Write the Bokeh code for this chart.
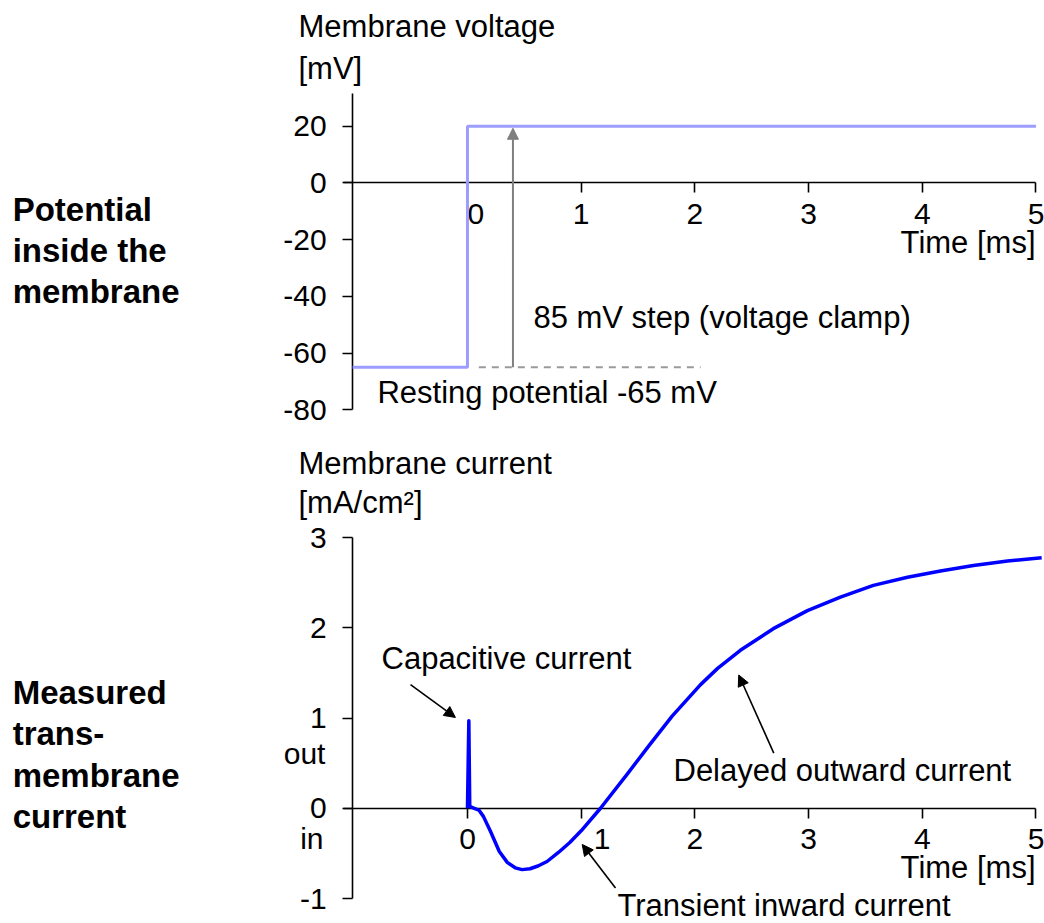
from bokeh.plotting import figure
from bokeh.models import Range1d, FixedTicker, Label, Arrow, NormalHead
from bokeh.layouts import column
from bokeh.embed import file_html
from bokeh.resources import INLINE

FONT = "Liberation Sans"

# ---------------- data ----------------
time_ticks = [0, 1, 2, 3, 4, 5]
voltage_ticks = [20, 0, -20, -40, -60, -80]
current_ticks = [3, 2, 1, 0, -1]

step_time = [-1.01, 0.0, 0.0, 5.0]
step_voltage = [-65, -65, 20, 20]

resting_time = [0.1, 2.05]
resting_voltage = [-65, -65]

current_time = [0.0, 0.012, 0.02, 0.06, 0.1, 0.14, 0.2, 0.28, 0.35, 0.42, 0.48,
                0.55, 0.62, 0.7, 0.8, 0.9, 1.0, 1.17, 1.4, 1.6, 1.8, 2.05, 2.2,
                2.4, 2.69, 2.99, 3.28, 3.57, 3.87, 4.16, 4.45, 4.75, 5.05]
current_value = [0.0, 0.97, 0.02, 0.0, -0.02, -0.09, -0.25, -0.48, -0.60, -0.66, -0.68,
                 -0.67, -0.64, -0.59, -0.49, -0.38, -0.25, 0.0, 0.37, 0.70, 1.02, 1.37, 1.55,
                 1.75, 1.99, 2.19, 2.34, 2.47, 2.56, 2.63, 2.69, 2.74, 2.775]

# the plot frame covers the whole canvas; axes sit at fixed data locations inside it
X_RANGE = (-4.107, 5.075)
X_AXIS_BOUNDS = (-1.09, 5.0)
Y_AXIS_AT = -1.01
NBSP = "\u00a0"


def make_fig(height, y_range, y_bounds, yticks, x_overrides):
    p = figure(width=1044, height=height, x_range=Range1d(*X_RANGE), y_range=Range1d(*y_range),
               output_backend="svg", toolbar_location=None, title=None, min_border=0)
    p.grid.visible = False
    p.outline_line_color = None
    p.background_fill_color = "white"
    p.border_fill_color = "white"

    xa = p.xaxis[0]
    xa.fixed_location = 0
    xa.ticker = FixedTicker(ticks=time_ticks)
    xa.bounds = X_AXIS_BOUNDS
    xa.major_label_overrides = x_overrides
    ya = p.yaxis[0]
    ya.fixed_location = Y_AXIS_AT
    ya.ticker = FixedTicker(ticks=yticks)
    ya.bounds = y_bounds
    ya.major_label_overrides = {t: str(t) for t in yticks}
    for ax in (xa, ya):
        ax.axis_line_color = "black"
        ax.axis_line_width = 1.6
        ax.major_tick_line_color = "black"
        ax.major_tick_line_width = 1.6
        ax.major_tick_out = 10
        ax.major_tick_in = 0
        ax.minor_tick_out = 0
        ax.minor_tick_in = 0
        ax.major_label_text_font = FONT
        ax.major_label_text_font_size = "30px"
        ax.major_label_text_color = "black"
    xa.major_label_standoff = 4
    ya.major_label_standoff = 16
    return p


def add_text(p, x, y, text, size="31px", align="left", bold=False):
    p.add_layout(Label(x=x, y=y, text=text, text_font=FONT, text_font_size=size,
                       text_align=align, text_baseline="alphabetic", text_color="black",
                       text_font_style="bold" if bold else "normal"))


# ---------------- top: membrane voltage ----------------
p1 = make_fig(440, (-90.83, 64.37), (-80, 31.5), voltage_ticks,
              {0: NBSP * 2 + "0"})
p1.line(resting_time, resting_voltage, line_color="#9a9a9a", line_width=2, line_dash="7 6")
r1 = p1.line(step_time, step_voltage, line_color="#9d9dff", line_width=3)
r1.level = "overlay"
p1.add_layout(Arrow(end=NormalHead(size=11, fill_color="#7f7f7f", line_color="#7f7f7f"),
                    x_start=0.4, y_start=-65, x_end=0.4, y_end=19.3,
                    line_color="#7f7f7f", line_width=2))

add_text(p1, -1.486, 55.2, "Membrane voltage")
add_text(p1, -1.486, 40.4, "[mV]")
add_text(p1, -4.0, -9.2, "Potential", "33px", bold=True)
add_text(p1, -4.0, -23.7, "inside the", "33px", bold=True)
add_text(p1, -4.0, -38.2, "membrane", "33px", bold=True)
add_text(p1, 0.58, -47.5, "85 mV step (voltage clamp)")
add_text(p1, -0.792, -73.9, "Resting potential -65 mV")
add_text(p1, 4.996, -21.0, "Time [ms]", align="right")

# ---------------- bottom: membrane current ----------------
p2 = make_fig(483, (-1.277, 4.075), (-1, 3), current_ticks,
              {1: NBSP * 5 + "1"})
r2 = p2.line(current_time, current_value, line_color="#0000ff", line_width=3.5,
             line_join="round")
r2.level = "overlay"

for (xs, ys, xe, ye) in [(-0.501, 1.37, -0.106, 1.006),
                         (1.302, -0.884, 1.009, -0.401),
                         (2.694, 0.611, 2.386, 1.477)]:
    p2.add_layout(Arrow(end=NormalHead(size=11, fill_color="black", line_color="black"),
                        x_start=xs, y_start=ys, x_end=xe, y_end=ye,
                        line_color="black", line_width=1.6))

add_text(p2, -1.486, 3.820, "Membrane current")
add_text(p2, -1.486, 3.388, "[mA/cm²]")
add_text(p2, -4.0, 1.283, "Measured", "33px", bold=True)
add_text(p2, -4.0, 0.829, "trans-", "33px", bold=True)
add_text(p2, -4.0, 0.363, "membrane", "33px", bold=True)
add_text(p2, -4.0, -0.091, "current", "33px", bold=True)
add_text(p2, -1.249, 0.607, "out", "30px", align="right")
add_text(p2, -1.266, -0.335, "in", "30px", align="right")
add_text(p2, -0.756, 1.659, "Capacitive current")
add_text(p2, 1.319, -1.077, "Transient inward current")
add_text(p2, 1.812, 0.418, "Delayed outward current")
add_text(p2, 4.996, -0.656, "Time [ms]", align="right")

layout = column(p1, p2, spacing=0)
open("out.html", "w").write(file_html(layout, INLINE))
